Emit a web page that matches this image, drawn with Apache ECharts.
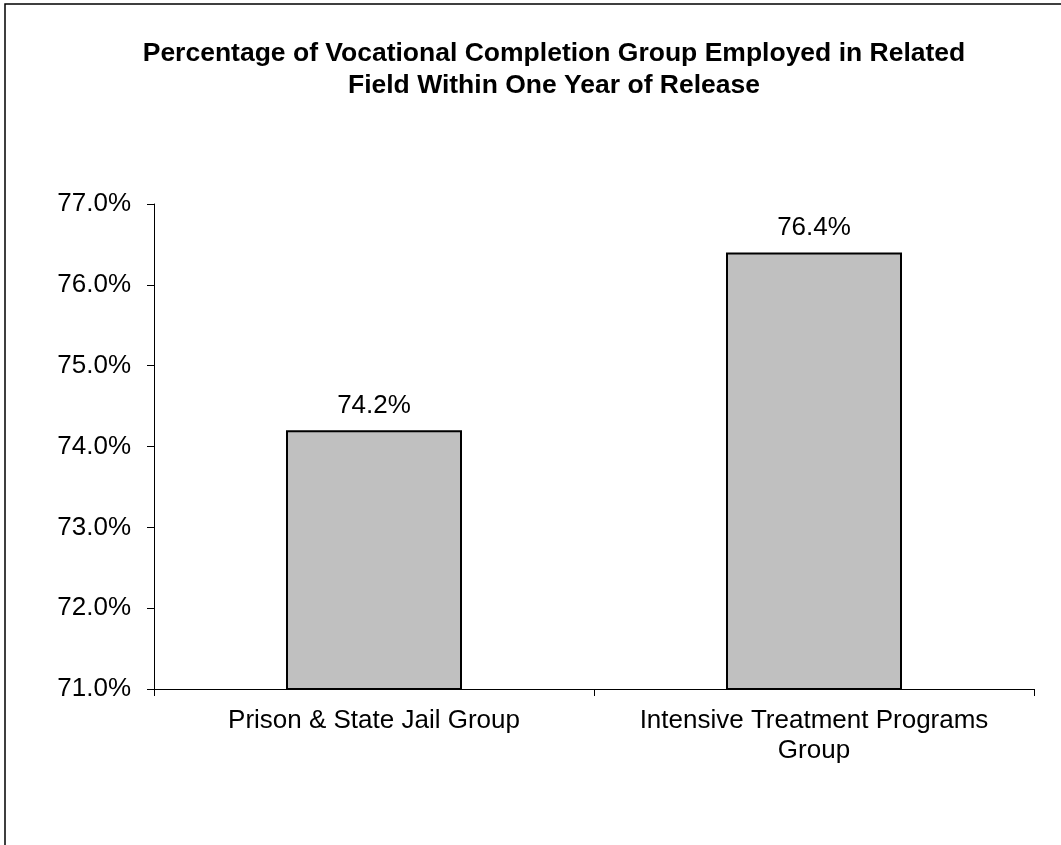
<!DOCTYPE html>
<html>
<head>
<meta charset="utf-8">
<script src="https://cdn.jsdelivr.net/npm/echarts@6/dist/echarts.min.js"></script>
<style>
html,body{margin:0;padding:0;background:#fff;}
#chart{width:1061px;height:845px;}
</style>
</head>
<body>
<div id="chart"></div>
<script>
var titleText = 'Percentage of Vocational Completion Group Employed in Related\nField Within One Year of Release';
var categories = ['Prison & State Jail Group', 'Intensive Treatment Programs\nGroup'];
var values = [74.2, 76.4];
var yMin = 71, yMax = 77, yStep = 1;

var chart = echarts.init(document.getElementById('chart'), null, {renderer: 'canvas'});
var font = 'Arial, "Liberation Sans", sans-serif';
chart.setOption({
  animation: false,
  backgroundColor: '#fff',
  graphic: [{
    type: 'rect',
    shape: {x: 5, y: 4, width: 1200, height: 1000},
    style: {fill: 'none', stroke: '#000', lineWidth: 1.5},
    silent: true
  }],
  title: {
    text: titleText,
    left: 549,
    textAlign: 'center',
    top: 33,
    textStyle: {fontFamily: font, fontSize: 26.5, fontWeight: 'bold', color: '#000', lineHeight: 32}
  },
  grid: {left: 154, right: 27, top: 204, bottom: 156, containLabel: false},
  xAxis: {
    type: 'category',
    data: categories,
    axisLine: {lineStyle: {color: '#000', width: 1}},
    axisTick: {show: true, length: 7, inside: false, lineStyle: {color: '#000'}},
    axisLabel: {fontFamily: font, fontSize: 26, color: '#000', margin: 17, lineHeight: 30, interval: 0}
  },
  yAxis: {
    type: 'value',
    min: yMin, max: yMax, interval: yStep,
    axisLine: {show: true, lineStyle: {color: '#000', width: 1}},
    axisTick: {show: true, length: 7, inside: false, lineStyle: {color: '#000'}},
    splitLine: {show: false},
    axisLabel: {fontFamily: font, fontSize: 26, color: '#000', margin: 23,
      formatter: function (v) { return v.toFixed(1) + '%'; }}
  },
  series: [{
    type: 'bar',
    data: values,
    barWidth: 176,
    itemStyle: {color: '#c0c0c0', borderColor: '#000', borderWidth: 2},
    label: {
      show: true, position: 'top', distance: 12,
      fontFamily: font, fontSize: 26, color: '#000',
      formatter: function (p) { return p.value.toFixed(1) + '%'; }
    }
  }]
});
</script>
</body>
</html>
